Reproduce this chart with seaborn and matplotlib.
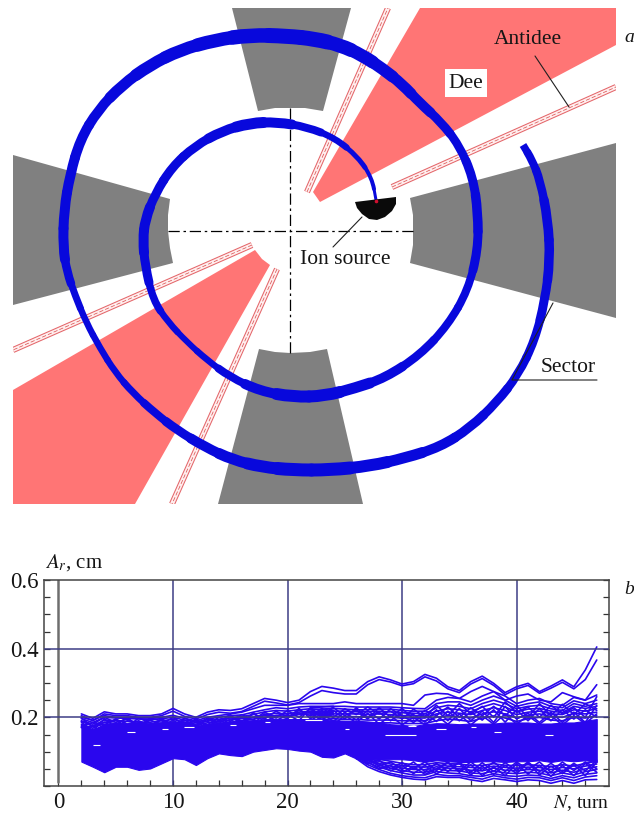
import numpy as np
import pandas as pd
import matplotlib

matplotlib.use("Agg")

import matplotlib.pyplot as plt
import seaborn as sns
from matplotlib.patches import PathPatch
from matplotlib.path import Path

sns.set_theme(style="ticks")
plt.rcParams["font.family"] = ["Liberation Serif", "DejaVu Serif"]
plt.rcParams["mathtext.fontset"] = "stix"

W, H = 634, 815

# top panel, everything in pixels
sector_top = [(232, 8), (351, 8), (323, 111), (305, 108), (290, 108), (275, 108), (258, 111)]
sector_right = [(616, 143), (616, 318), (410, 263), (413, 245), (413, 231), (413, 215), (410, 198)]
sector_bottom = [(259, 349), (275, 352), (290, 353), (310, 352), (327, 349), (363, 504), (218, 504)]
sector_left = [(13, 155), (170, 199), (168, 215), (168, 231), (170, 248), (173, 263), (13, 305)]
dee_upper = [(313, 192), (420, 8), (616, 8), (616, 45), (320, 202)]
dee_lower = [(255, 250), (262, 259), (270, 265), (135, 504), (13, 504), (13, 390)]
antidee_strips = [
    [(307, 192), (388, 8)],
    [(392, 187), (616, 87)],
    [(252, 245), (13, 350)],
    [(277, 269), (172, 504)],
]
source_shape = [(355, 202), (396, 197), (396, 204), (392, 211), (385, 217), (377, 220),
                (369, 219), (362, 214), (357, 208)]
spiral_x = [376, 372, 358, 335, 307, 277, 250, 222, 195, 172, 155, 145, 143, 145, 153, 168, 187,
            207, 230, 260, 293, 325, 355, 385, 420, 448, 468, 478, 478, 473, 459, 441, 420, 402,
            383, 362, 340, 315, 287, 250, 215, 180, 150, 122, 98, 80, 70, 64, 63, 67, 75, 86, 100,
            115, 133, 155, 177, 205, 233, 262, 293, 330, 370, 405, 440, 470, 497, 518, 535, 545,
            550, 548, 540, 532, 523]
spiral_y = [200, 178, 157, 138, 127, 122, 123, 131, 146, 167, 194, 220, 240, 265, 300, 322, 342,
            360, 377, 391, 397, 396, 388, 378, 355, 325, 290, 250, 213, 177, 145, 122, 103, 84,
            69, 55, 45, 39, 36, 35, 40, 50, 65, 85, 110, 140, 175, 210, 247, 272, 295, 322, 348,
            372, 393, 413, 430, 447, 460, 467, 470, 470, 466, 458, 447, 428, 402, 375, 340, 300,
            260, 220, 180, 160, 145]
spiral_width = [3, 4, 5, 6.5, 8, 10, 11, 10, 9, 9, 9, 10, 10, 9, 7.5, 6.5, 6, 6.5, 8, 10, 12, 12, 11, 9.5, 8.5, 8, 8,
                9, 9.5, 9, 8.5, 9, 10, 11, 12, 13, 14, 15, 15, 14.5, 13.5, 12.5, 12, 11, 10, 10, 10, 10, 10, 8.5, 7,
                6.5, 6.5, 6.5, 7, 8, 9, 10, 11, 12, 13, 13, 12, 11, 10, 9.5, 9, 8.5, 8.5, 9, 9.5, 9.5, 8.5, 8, 7.5]

# bottom panel: amplitude per turn, values start at turn 2
core_top = [.178, .165, .178, .182, .182, .184, .184, .186, .188, .186,
            .175, .18, .182, .186, .19, .192, .195, .196, .195, .195,
            .195, .195, .192, .19, .19, .188, .185, .18, .178, .175,
            .18, .183, .182, .18, .182, .182, .182, .185, .185, .185,
            .182, .182, .185, .185, .19, .195]
core_bottom = [.071, .056, .04, .056, .056, .047, .051, .066, .081, .078,
               .061, .081, .095, .09, .087, .1, .105, .11, .108, .103,
               .1, .085, .083, .095, .08, .078, .078, .078, .078, .075,
               .07, .075, .072, .07, .07, .072, .072, .07, .072, .072,
               .075, .07, .075, .072, .075, .07]
upper_full = [
    [.21, .197, .216, .21, .21, .205, .205, .21, .226, .21,
     .20, .215, .222, .22, .225, .24, .255, .25, .243, .25,
     .275, .29, .285, .278, .278, .304, .318, .309, .297, .304,
     .325, .314, .289, .278, .304, .32, .299, .272, .289, .299,
     .275, .291, .309, .289, .338, .405],
    [.205, .19, .21, .205, .205, .2, .2, .205, .218, .203,
     .195, .208, .215, .212, .217, .232, .247, .242, .236, .243,
     .262, .278, .272, .268, .268, .295, .31, .303, .292, .298,
     .318, .306, .283, .272, .297, .313, .293, .266, .283, .293,
     .27, .285, .302, .283, .31, .367],
    [.2, .192, .205, .2, .2, .198, .198, .2, .206, .197,
     .19, .2, .205, .21, .215, .225, .235, .235, .235, .24,
     .24, .24, .24, .245, .24, .24, .24, .24, .24, .235,
     .265, .27, .268, .255, .275, .29, .275, .25, .262, .268,
     .25, .245, .272, .26, .25, .295],
]
upper_left = [
    [.196, .185, .2, .198, .197, .195, .194, .196, .2, .192, .186, .195, .2, .205, .207, .215, .222, .228, .225, .23, .232, .232, .232],
    [.188, .175, .192, .19, .188, .186, .186, .19, .194, .186, .18, .19, .194, .198, .202, .208, .216, .22, .218, .222, .225, .222, .226],
    [.18, .168, .186, .182, .18, .18, .178, .182, .186, .18, .176, .184, .188, .192, .196, .2, .208, .212, .21, .215, .218, .216, .218],
    [.172, .16, .178, .176, .174, .174, .172, .176, .18, .174, .172, .178, .182, .186, .19, .195, .2, .204, .204, .208, .21, .208, .21],
    [.19, .18, .2, .185, .195, .178, .192, .18, .2, .178, .19, .178, .2, .188, .208, .192, .215, .198, .22, .2, .225, .205, .23],
    [.175, .185, .178, .195, .18, .19, .176, .195, .18, .192, .176, .195, .182, .202, .188, .21, .195, .218, .2, .22, .204, .226, .208],
    [.186, .16, .196, .17, .19, .186, .17, .195, .17, .198, .184, .188, .176, .195, .198, .2, .205, .205, .212, .21, .214, .212, .22],
    [.17, .175, .185, .192, .172, .198, .184, .172, .192, .17, .196, .172, .192, .178, .2, .18, .21, .19, .208, .19, .228, .198, .215],
    [.198, .172, .18, .178, .2, .172, .198, .19, .176, .186, .17, .198, .186, .208, .178, .214, .186, .206, .196, .226, .196, .218, .2],
]
upper_right = [
    [.228, .23, .232, .232, .23, .23, .23, .23, .228, .226, .225, .25, .258, .255, .245, .262, .275, .262, .24, .25, .255, .24, .235, .258, .25, .265],
    [.222, .224, .226, .224, .222, .222, .224, .224, .22, .218, .218, .24, .245, .245, .235, .25, .262, .25, .232, .24, .245, .232, .228, .248, .24, .25],
    [.215, .216, .218, .218, .216, .216, .218, .216, .214, .212, .21, .228, .235, .232, .225, .24, .25, .24, .225, .232, .235, .225, .22, .24, .232, .24],
    [.208, .208, .21, .21, .21, .208, .21, .208, .205, .205, .204, .218, .225, .222, .216, .23, .24, .23, .216, .224, .226, .218, .214, .232, .226, .232],
    [.2, .2, .204, .202, .202, .2, .2, .2, .198, .198, .198, .21, .215, .212, .208, .22, .228, .22, .208, .215, .218, .21, .208, .222, .218, .225],
    [.193, .193, .196, .194, .194, .192, .192, .192, .19, .19, .19, .2, .205, .202, .198, .21, .216, .21, .198, .206, .21, .202, .2, .212, .21, .215],
    [.185, .185, .188, .186, .186, .184, .184, .184, .182, .182, .182, .19, .195, .192, .188, .198, .204, .198, .188, .196, .2, .192, .19, .2, .198, .205],
    [.205, .22, .2, .225, .208, .23, .21, .218, .195, .224, .2, .235, .205, .24, .21, .232, .2, .245, .215, .23, .2, .235, .21, .228, .2, .26],
    [.225, .2, .228, .205, .222, .195, .228, .2, .226, .195, .22, .205, .23, .2, .228, .205, .232, .205, .235, .2, .24, .205, .238, .208, .24, .22],
    [.19, .212, .188, .215, .192, .22, .195, .225, .205, .185, .212, .188, .218, .19, .215, .192, .222, .186, .222, .19, .226, .19, .222, .195, .222, .2],
    [.212, .19, .22, .195, .228, .2, .215, .19, .215, .208, .186, .222, .19, .226, .19, .218, .185, .232, .195, .212, .185, .215, .185, .215, .185, .235],
    [.18, .2, .178, .205, .185, .212, .18, .205, .178, .2, .178, .205, .18, .21, .178, .205, .18, .21, .18, .205, .18, .205, .178, .205, .182, .21],
]
lower_right = [
    [.08, .056, .042, .032, .025, .02, .018, .027, .025, .025, .018, .013, .022, .018, .013, .018, .016, .008, .016, .008, .018, .019],
    [.082, .062, .048, .037, .03, .026, .024, .034, .03, .03, .025, .02, .03, .024, .02, .025, .024, .016, .024, .016, .026, .03],
    [.085, .068, .055, .045, .038, .032, .032, .042, .038, .036, .03, .028, .036, .03, .028, .032, .03, .022, .03, .024, .034, .038],
    [.086, .074, .06, .052, .045, .04, .04, .05, .045, .044, .038, .036, .044, .038, .036, .04, .038, .03, .038, .032, .042, .048],
    [.088, .078, .066, .058, .052, .048, .048, .056, .052, .05, .046, .044, .052, .046, .044, .048, .046, .038, .046, .04, .05, .056],
    [.09, .08, .072, .064, .06, .056, .055, .062, .058, .056, .054, .052, .058, .054, .052, .055, .054, .048, .054, .05, .058, .064],
    [.092, .084, .078, .072, .066, .062, .062, .068, .065, .064, .06, .06, .065, .06, .06, .062, .06, .056, .062, .058, .066, .072],
    [.085, .07, .05, .06, .04, .056, .034, .05, .07, .04, .062, .03, .056, .03, .065, .035, .06, .028, .06, .03, .066, .04],
    [.08, .075, .064, .044, .06, .036, .06, .035, .056, .066, .032, .058, .034, .06, .036, .068, .032, .058, .036, .062, .03, .07],
    [.09, .064, .075, .05, .068, .05, .07, .045, .068, .045, .07, .045, .07, .042, .07, .048, .07, .04, .07, .045, .07, .05],
    [.088, .08, .058, .07, .048, .07, .042, .066, .042, .07, .04, .068, .042, .068, .045, .07, .042, .066, .042, .066, .044, .075],
]
upper_full_start = 2
upper_left_start = 2
upper_right_start = 22
lower_right_start = 26
# light flecks left inside the dense core: turn from, turn to, amplitude
core_gap_from = [28.5, 21.5, 3.0, 11.0, 15.0, 25.0, 33.0, 38.0, 42.5, 6.0, 18.0, 30.5, 36.0, 9.0]
core_gap_to = [31.2, 23.0, 3.6, 11.8, 15.5, 25.4, 33.8, 38.6, 43.2, 6.7, 18.5, 31.2, 36.5, 9.6]
core_gap_amp = [.148, .193, .118, .172, .178, .165, .165, .158, .148, .158, .186, .175, .172, .166]
x_major = [0, 10, 20, 30, 40]
y_major = [0.2, 0.4, 0.6]

BEAM = "#2a06ee"
BLUE = "#0808dc"
GRID = "#3d3d85"


def long_table(traces, start, prefix):
    rows = []
    for i, values in enumerate(traces):
        for k, v in enumerate(values):
            rows.append({"trace": f"{prefix}{i}", "turn": start + k, "amp": v})
    return rows


def add_polygon(ax, points, color, z=1):
    xs, ys = zip(*points)
    ax.fill(xs, ys, color=color, lw=0, zorder=z)


def draw_beam(ax, xs, ys, widths):
    # the traced points act as control points of short quadratic curves
    pts = list(zip(xs, ys))
    mids = [((a[0] + b[0]) / 2, (a[1] + b[1]) / 2) for a, b in zip(pts[:-1], pts[1:])]
    ax.plot([pts[0][0], mids[0][0]], [pts[0][1], mids[0][1]], color=BLUE, lw=widths[0] * 0.72,
            solid_capstyle="butt", zorder=3)
    for i in range(1, len(pts) - 1):
        path = Path([mids[i - 1], pts[i], mids[i]], [Path.MOVETO, Path.CURVE3, Path.CURVE3])
        ax.add_patch(PathPatch(path, fill=False, edgecolor=BLUE, lw=widths[i] * 0.72,
                               capstyle="round", zorder=3))
    ax.plot([mids[-1][0], pts[-1][0]], [mids[-1][1], pts[-1][1]], color=BLUE, lw=widths[-1] * 0.72,
            solid_capstyle="butt", zorder=3)


fig = plt.figure(figsize=(W / 100, H / 100), dpi=100, facecolor="white")

top = fig.add_axes([13 / W, 1 - 504 / H, 603 / W, 496 / H])
top.set_xlim(13, 616)
top.set_ylim(504, 8)
top.axis("off")

for shape in (sector_top, sector_right, sector_bottom, sector_left):
    add_polygon(top, shape, "#808080")
for shape in (dee_upper, dee_lower):
    add_polygon(top, shape, "#ff7575")

for strip in antidee_strips:
    xs, ys = zip(*strip)
    top.plot(xs, ys, color="#e4666a", lw=4.4, solid_capstyle="butt", zorder=2)
    top.plot(xs, ys, color="#ffeeee", lw=2.9, solid_capstyle="butt", zorder=2)
    top.plot(xs, ys, color="#d84a4a", lw=0.5, ls=(0, (6, 3)), zorder=2)

top.plot([290, 290], [108, 353], color="black", lw=0.9, ls=(0, (9, 3, 2, 3)), zorder=2)
top.plot([168, 413], [231, 231], color="black", lw=0.9, ls=(0, (9, 3, 2, 3)), zorder=2)

draw_beam(top, spiral_x, spiral_y, spiral_width)

add_polygon(top, source_shape, "#0a0a0a", z=4)
top.plot([376], [201], "o", color="#d01030", ms=1.6, zorder=5)

top.plot([535, 569], [56, 107], color="#202020", lw=0.8, zorder=6)
top.plot([362, 333], [217, 247], color="#202020", lw=0.8, zorder=6)
top.plot([553, 512, 597], [303, 380, 380], color="#202020", lw=0.8, zorder=6)

label_size = 15.5
top.text(466, 83, "Dee", ha="center", va="center", fontsize=label_size, color="#151515", zorder=7,
         bbox=dict(facecolor="white", edgecolor="none", pad=3))
top.text(528, 39, "Antidee", ha="center", va="center", fontsize=label_size, color="#151515", zorder=7)
top.text(345, 260, "Ion source", ha="center", va="center", fontsize=label_size, color="#151515", zorder=7)
top.text(568, 368, "Sector", ha="center", va="center", fontsize=label_size, color="#151515", zorder=7)

# bottom panel
ax = fig.add_axes([44.5 / W, 1 - 786 / H, 564.5 / W, 206 / H])

rows = (long_table(upper_full, upper_full_start, "f")
        + long_table(upper_left, upper_left_start, "l")
        + long_table(upper_right, upper_right_start, "r")
        + long_table(lower_right, lower_right_start, "b"))
traces = pd.DataFrame(rows)

turns = np.arange(2, 2 + len(core_top))
ax.fill_between(turns, core_bottom, core_top, color=BEAM, lw=0.8, zorder=3)
sns.lineplot(data=traces, x="turn", y="amp", units="trace", estimator=None, color=BEAM,
             lw=1.2, ax=ax, zorder=3)
ax.hlines(core_gap_amp, core_gap_from, core_gap_to, color="white", lw=0.8, zorder=3.5)

ax.set_xlim(-1.22, 48.07)
ax.set_ylim(0, 0.6)
ax.set_xlabel("")
ax.set_ylabel("")

for v in x_major[1:]:
    ax.axvline(v, color=GRID, lw=1.1, zorder=2)
ax.plot([0, 0], [0.012, 0.6], color="#6e6e6e", lw=1.8, zorder=2)
for v in y_major[:2]:
    ax.axhline(v, color=GRID, lw=1.1, zorder=4)

ax.set_xticks(x_major)
ax.set_yticks(y_major)
ax.set_yticklabels(["0.2", "0.4", "0.6"])
ax.set_xticks(np.arange(0, 48, 2), minor=True)
ax.set_yticks(np.arange(0, 0.6, 0.05), minor=True)
ax.tick_params(axis="both", which="both", direction="in", left=True, right=True, bottom=True, top=False,
               color="#333333", width=0.9, length=4)
ax.tick_params(axis="both", which="major", labelsize=16.5, labelcolor="#151515", pad=4)
for spine in ax.spines.values():
    spine.set_visible(True)
    spine.set_color("#444444")
    spine.set_linewidth(1.1)

fig.text(45 / W, 1 - 563 / H, r"$\mathit{A_r}$, cm", fontsize=15, color="#151515", va="center")
fig.text(553 / W, 1 - 803 / H, r"$\mathit{N}$, turn", fontsize=14, color="#151515", va="center")
fig.text(624 / W, 1 - 37 / H, "a", fontsize=14, style="italic", color="#151515", va="center")
fig.text(624 / W, 1 - 590 / H, "b", fontsize=14, style="italic", color="#151515", va="center")

fig.savefig("out.png", dpi=100)
